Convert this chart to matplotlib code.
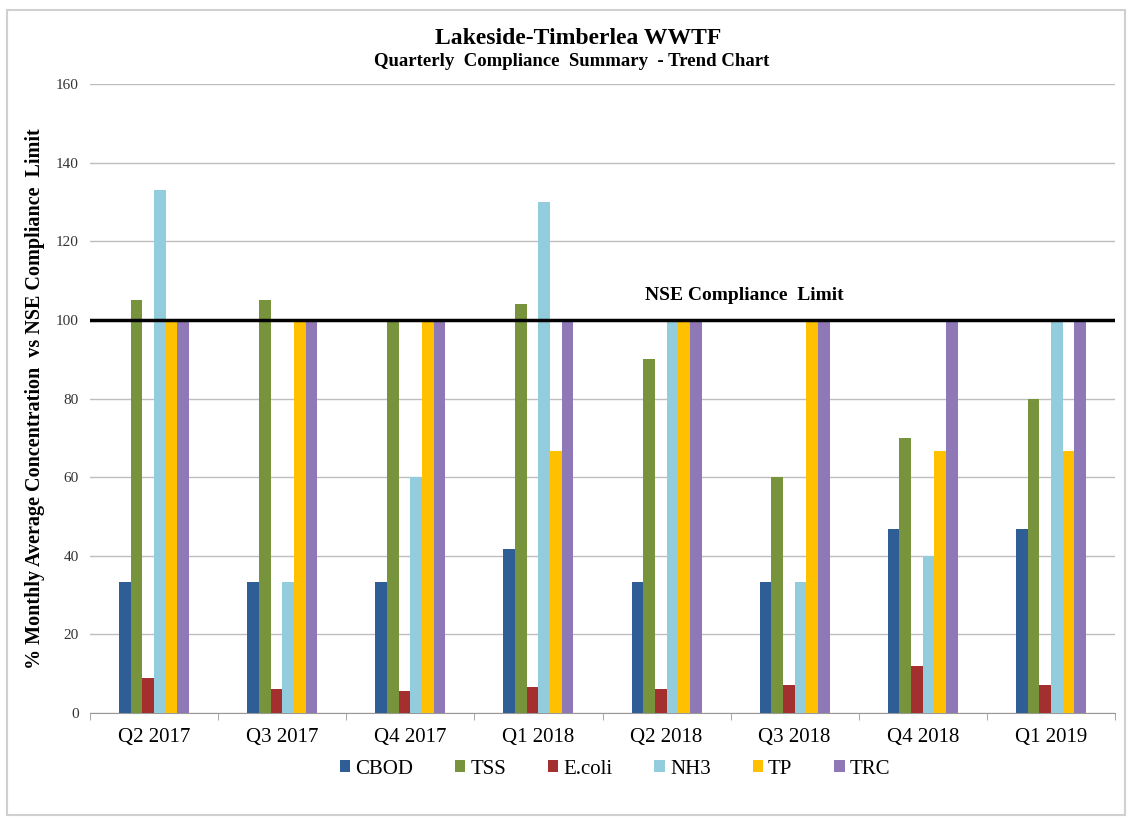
import numpy as np
import matplotlib.pyplot as plt
from matplotlib.patches import Rectangle

quarters = ["Q2 2017", "Q3 2017", "Q4 2017", "Q1 2018",
            "Q2 2018", "Q3 2018", "Q4 2018", "Q1 2019"]
cbod = [33.3, 33.3, 33.3, 41.7, 33.3, 33.3, 46.7, 46.7]
tss = [105, 105, 100, 104, 90, 60, 70, 80]
ecoli = [9, 6, 5.5, 6.5, 6, 7, 12, 7]
nh3 = [133, 33.3, 60, 130, 100, 33.3, 40, 100]
tp = [100, 100, 100, 66.7, 100, 100, 66.7, 66.7]
trc = [100, 100, 100, 100, 100, 100, 100, 100]
limit = 100

series = [("CBOD", cbod, "#2F5E97"),
          ("TSS", tss, "#77933C"),
          ("E.coli", ecoli, "#A3302F"),
          ("NH3", nh3, "#93CDDD"),
          ("TP", tp, "#FFC000"),
          ("TRC", trc, "#8F78B6")]

plt.rcParams["font.family"] = ["Liberation Serif", "DejaVu Serif"]

fig = plt.figure(figsize=(11.28, 8.19), dpi=100)
ax = fig.add_axes([90 / 1128, 1 - 713 / 819, 1025 / 1128, 629 / 819])

# outer frame of the screenshot
fig.patches.append(Rectangle((7 / 1128, 4 / 819), 1118 / 1128, 805 / 819,
                             transform=fig.transFigure, fill=False,
                             edgecolor="#D0D0D0", linewidth=1.5))

x = np.arange(len(quarters))
w = 0.091
for k, (name, vals, color) in enumerate(series):
    ax.bar(x + (k - 2.5) * w, vals, width=w, color=color, label=name,
           zorder=3)

ax.axhline(limit, color="black", linewidth=2.5, zorder=4)
ax.text(4.61, limit + 4, "NSE Compliance  Limit", ha="center", va="bottom",
        fontsize=14, fontweight="bold")

ax.set_xlim(-0.5, len(quarters) - 0.5)
ax.set_ylim(0, 160)
ax.set_yticks(np.arange(0, 161, 20))
ax.yaxis.grid(True, color="#BEBEBE", linewidth=1)
ax.set_axisbelow(True)
ax.set_xticks(x, quarters)
ax.set_xticks(np.arange(-0.5, len(quarters)), minor=True)
ax.tick_params(axis="x", which="major", length=0, labelsize=15, pad=11)
ax.tick_params(axis="x", which="minor", length=5, color="#999999")
ax.tick_params(axis="y", length=0, labelsize=11, pad=8, labelcolor="#333333")
for s in ["left", "right", "top"]:
    ax.spines[s].set_visible(False)
ax.spines["bottom"].set_color("#999999")

ax.set_ylabel("% Monthly Average Concentration  vs NSE Compliance  Limit",
              fontsize=14.5, fontweight="bold", labelpad=8)

fig.text(578 / 1128, 1 - 39 / 819, "Lakeside-Timberlea WWTF", ha="center",
         va="center", fontsize=17, fontweight="bold")
fig.text(572 / 1128, 1 - 62 / 819, "Quarterly  Compliance  Summary  - Trend Chart",
         ha="center", va="center", fontsize=13.5, fontweight="bold")

fig.legend(loc="center", bbox_to_anchor=(615 / 1128, 1 - 769 / 819), ncol=6,
           frameon=False, fontsize=15, handlelength=0.5, handleheight=0.5,
           handletextpad=0.25, columnspacing=2.0)

fig.savefig("out.png", dpi=100)
